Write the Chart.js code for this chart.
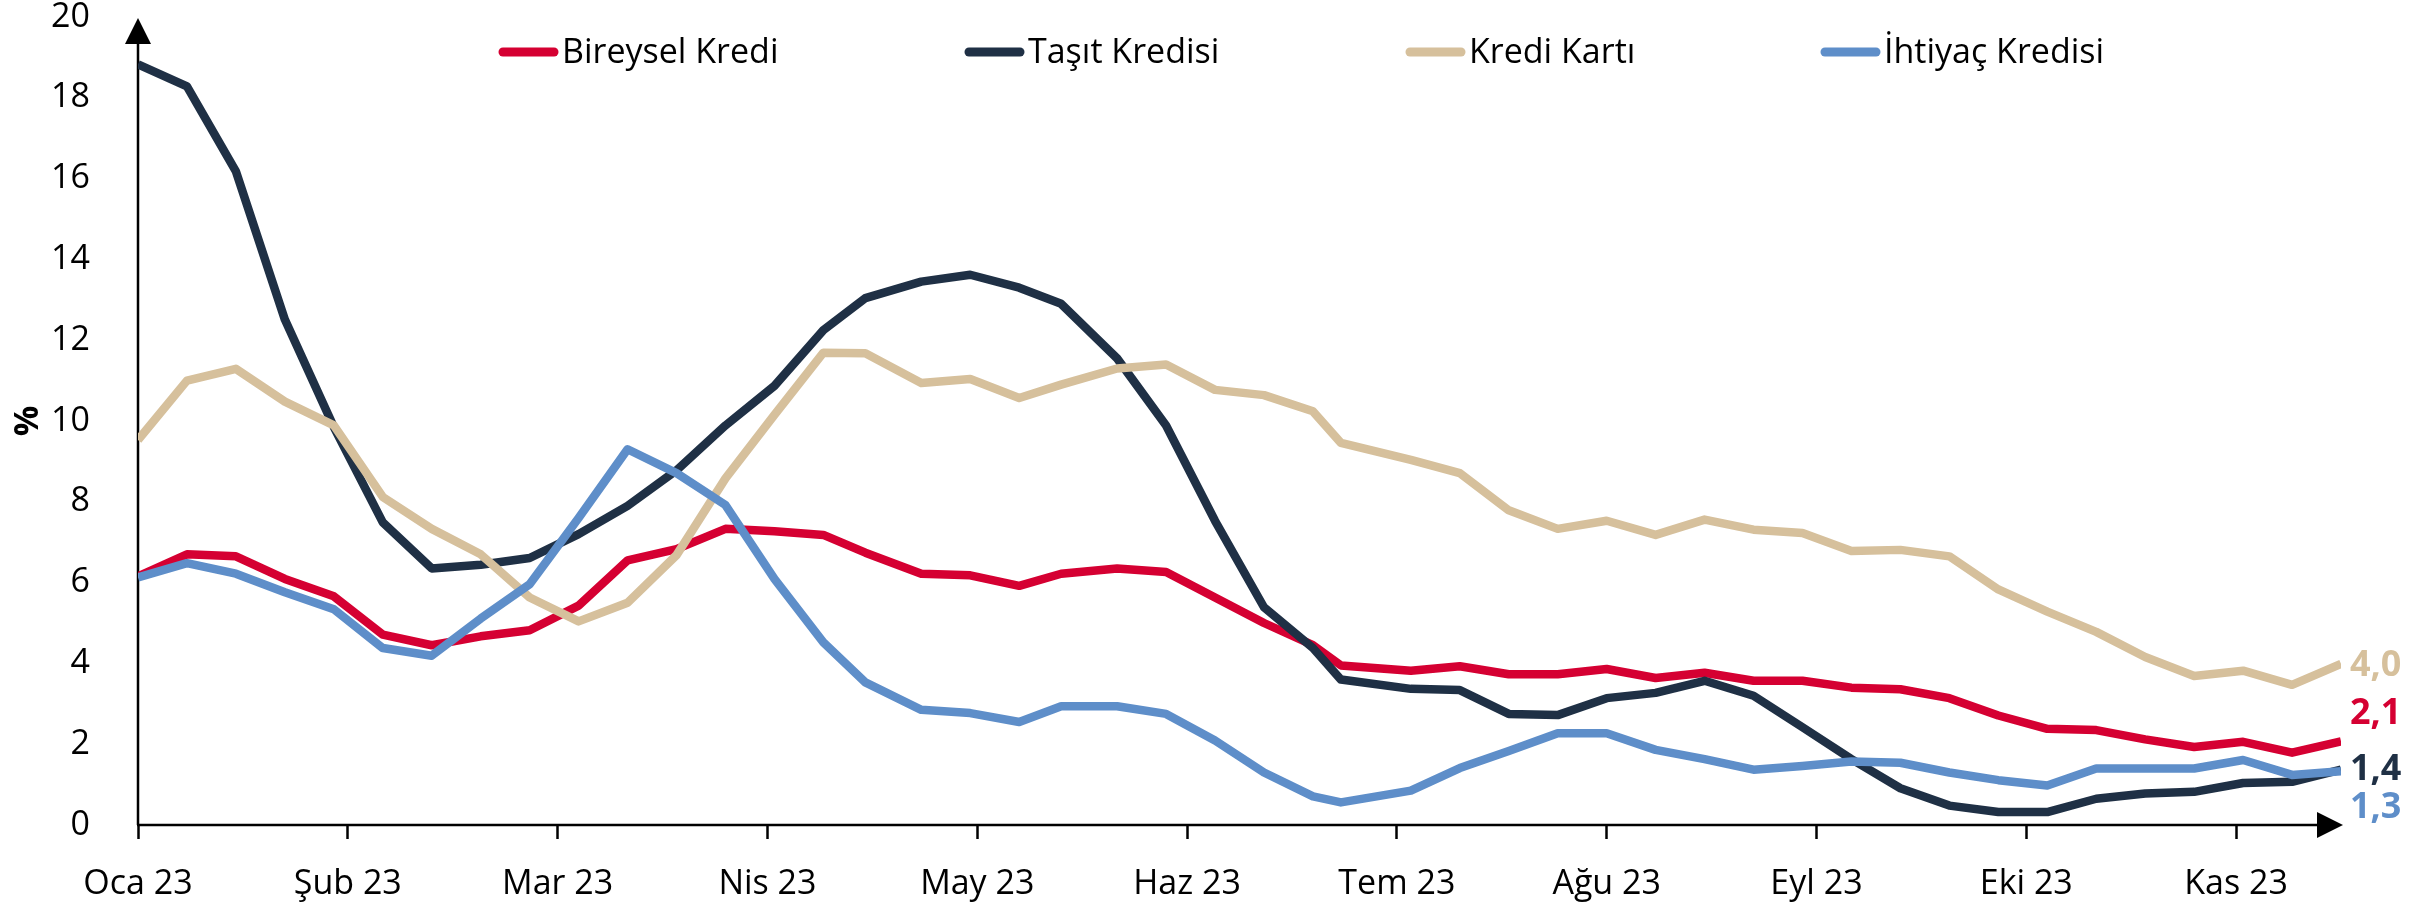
<!DOCTYPE html>
<html lang="tr">
<head>
<meta charset="utf-8">
<title>Kredi büyümesi</title>
<script src="https://cdn.jsdelivr.net/npm/chart.js@4.4.1/dist/chart.umd.min.js"></script>
<style>
  html, body { margin: 0; padding: 0; background: #fff; }
  #wrap { width: 2432px; height: 904px; }
</style>
</head>
<body>
<div id="wrap"><canvas id="kredi" width="2432" height="904"></canvas></div>
<script>
// ticks every 30 days from the first observation
const monthLabels = ['Oca 23', 'Şub 23', 'Mar 23', 'Nis 23', 'May 23', 'Haz 23',
                     'Tem 23', 'Ağu 23', 'Eyl 23', 'Eki 23', 'Kas 23'];

// days since first weekly observation (holiday weeks are shifted)
const days = [0, 7, 14, 21, 28, 35, 42, 49, 56, 63, 70, 77, 84, 91, 98,
              104, 112, 119, 126, 132, 140, 147, 154, 161, 168, 172,
              182, 189, 196, 203, 210, 217, 224, 231, 238, 245, 252, 259,
              266, 273, 280, 287, 294, 301, 308, 315];

const bireysel = [6.15, 6.70, 6.65, 6.09, 5.66, 4.71, 4.45, 4.67, 4.82, 5.43,
                  6.55, 6.83, 7.33, 7.27, 7.18, 6.74, 6.22, 6.18, 5.92, 6.22,
                  6.35, 6.26, 5.63, 5.00, 4.45, 3.95, 3.82, 3.93, 3.73, 3.73,
                  3.86, 3.64, 3.77, 3.57, 3.57, 3.40, 3.36, 3.14, 2.71, 2.38,
                  2.35, 2.12, 1.93, 2.06, 1.79, 2.07];

const tasit = [18.83, 18.28, 16.18, 12.51, 9.85, 7.49, 6.35, 6.44, 6.61, 7.20,
               7.90, 8.78, 9.89, 10.87, 12.25, 13.04, 13.45, 13.62, 13.30, 12.90,
               11.55, 9.89, 7.53, 5.39, 4.38, 3.60, 3.37, 3.34, 2.75, 2.72,
               3.14, 3.27, 3.57, 3.20, 2.42, 1.63, 0.91, 0.48, 0.32, 0.32,
               0.65, 0.78, 0.82, 1.04, 1.07, 1.37];

const krediKarti = [9.53, 11.00, 11.29, 10.48, 9.89, 8.12, 7.33, 6.70, 5.63, 5.04,
                    5.50, 6.68, 8.58, 10.15, 11.69, 11.68, 10.94, 11.04, 10.57, 10.90,
                    11.30, 11.40, 10.77, 10.64, 10.24, 9.46, 9.04, 8.71, 7.79, 7.33,
                    7.53, 7.18, 7.56, 7.31, 7.23, 6.78, 6.81, 6.65, 5.83, 5.28,
                    4.78, 4.16, 3.69, 3.82, 3.47, 3.99];

const ihtiyac = [6.13, 6.48, 6.22, 5.76, 5.34, 4.38, 4.19, 5.11, 5.96, 7.60,
                 9.30, 8.71, 7.92, 6.09, 4.52, 3.53, 2.85, 2.77, 2.55, 2.94,
                 2.94, 2.75, 2.09, 1.30, 0.71, 0.56, 0.85, 1.41, 1.83, 2.27,
                 2.27, 1.86, 1.63, 1.37, 1.46, 1.57, 1.54, 1.30, 1.11, 0.98,
                 1.40, 1.40, 1.40, 1.61, 1.24, 1.33];

const seriesNames = ['Bireysel Kredi', 'Taşıt Kredisi', 'Kredi Kartı', 'İhtiyaç Kredisi'];
const seriesColors = ['#D50032', '#1F3045', '#D6C09C', '#5E8EC9'];
const endLabelShift = [-28, 0, 2, 36];
const legendX = [503, 969, 1410, 1825];

const FONT = '"Open Sans", "DejaVu Sans", sans-serif';

function toPoints(values) {
  return values.map((v, i) => ({ x: days[i], y: v }));
}

const axisArrows = {
  id: 'axisArrows',
  beforeDatasetsDraw(chart) {
    const { ctx, chartArea: a } = chart;
    ctx.save();
    ctx.strokeStyle = '#000';
    ctx.fillStyle = '#000';
    ctx.lineWidth = 2.5;
    ctx.beginPath();
    ctx.moveTo(a.left, a.bottom);
    ctx.lineTo(a.left, a.top + 24);
    ctx.moveTo(a.left - 1, a.bottom);
    ctx.lineTo(a.right - 22, a.bottom);
    ctx.stroke();
    ctx.beginPath();
    ctx.moveTo(a.left, a.top + 1);
    ctx.lineTo(a.left - 13, a.top + 27);
    ctx.lineTo(a.left + 13, a.top + 27);
    ctx.closePath();
    ctx.fill();
    ctx.beginPath();
    ctx.moveTo(a.right + 2, a.bottom);
    ctx.lineTo(a.right - 24, a.bottom - 13);
    ctx.lineTo(a.right - 24, a.bottom + 13);
    ctx.closePath();
    ctx.fill();
    ctx.restore();
  }
};

const legendAndLabels = {
  id: 'legendAndLabels',
  afterDraw(chart) {
    const { ctx, chartArea: a } = chart;
    ctx.save();
    // legend row inside the plot
    ctx.font = '34px ' + FONT;
    ctx.textBaseline = 'alphabetic';
    ctx.textAlign = 'left';
    ctx.lineCap = 'round';
    chart.data.datasets.forEach((ds, i) => {
      const x = legendX[i];
      ctx.strokeStyle = ds.borderColor;
      ctx.lineWidth = 9;
      ctx.beginPath();
      ctx.moveTo(x, 52);
      ctx.lineTo(x + 51, 52);
      ctx.stroke();
      ctx.fillStyle = '#000';
      ctx.fillText(ds.label, x + 59, 63);
    });
    // last values at the right end
    ctx.font = 'bold 36px ' + FONT;
    ctx.textBaseline = 'middle';
    chart.data.datasets.forEach((ds, i) => {
      const meta = chart.getDatasetMeta(i);
      const last = meta.data[meta.data.length - 1];
      const val = ds.data[ds.data.length - 1].y;
      ctx.fillStyle = ds.borderColor;
      ctx.fillText(val.toFixed(1).replace('.', ','), a.right + 9, last.y + endLabelShift[i]);
    });
    ctx.restore();
  }
};

const seriesValues = [bireysel, tasit, krediKarti, ihtiyac];

new Chart(document.getElementById('kredi'), {
  type: 'line',
  data: {
    datasets: seriesValues.map((vals, i) => ({
      label: seriesNames[i],
      data: toPoints(vals),
      borderColor: seriesColors[i],
      backgroundColor: seriesColors[i],
      borderWidth: 8.5,
      pointRadius: 0,
      tension: 0,
      borderJoinStyle: 'round',
      order: 3 - i
    }))
  },
  options: {
    responsive: false,
    animation: false,
    layout: { padding: { top: 17, right: 91, left: 0, bottom: 0 } },
    plugins: {
      legend: { display: false },
      tooltip: { enabled: false }
    },
    scales: {
      x: {
        type: 'linear',
        min: 0,
        max: 315,
        afterBuildTicks: s => { s.ticks = monthLabels.map((_, k) => ({ value: k * 30 })); },
        afterFit: s => { s.height = 79; s.paddingLeft = 0; s.paddingRight = 0; },
        border: { display: false },
        grid: { display: true, drawOnChartArea: false, drawTicks: true, tickLength: 14, tickWidth: 2.5, tickColor: '#000' },
        ticks: {
          autoSkip: false,
          maxRotation: 0,
          padding: 25,
          color: '#000',
          font: { family: FONT, size: 34 },
          callback: (v, i) => monthLabels[i]
        }
      },
      y: {
        min: 0,
        max: 20,
        afterFit: s => { s.width = 138; s.paddingTop = 0; s.paddingBottom = 0; },
        border: { display: false },
        grid: { display: false },
        title: {
          display: true,
          text: '%',
          color: '#000',
          padding: { top: 8, bottom: 0 },
          font: { family: FONT, size: 34, weight: 'bold' }
        },
        ticks: {
          stepSize: 2,
          padding: 40,
          color: '#000',
          font: { family: FONT, size: 34 }
        }
      }
    }
  },
  plugins: [axisArrows, legendAndLabels]
});
</script>
</body>
</html>
